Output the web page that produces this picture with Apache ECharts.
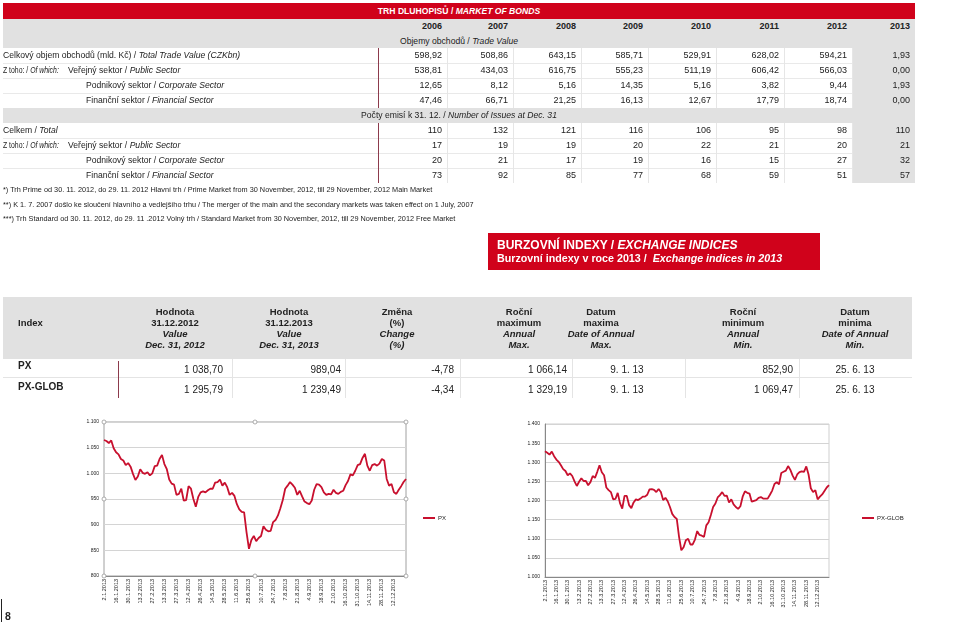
<!DOCTYPE html>
<html><head><meta charset="utf-8">
<script src="https://cdn.jsdelivr.net/npm/echarts@6/dist/echarts.min.js"></script>
<style>
html,body{margin:0;padding:0;background:#fff;}
body{width:960px;height:622px;position:relative;overflow:hidden;font-family:"Liberation Sans",Arial,sans-serif;color:#222;}
#chart{position:absolute;left:0;top:0;width:960px;height:622px;}
#tables{position:absolute;left:0;top:0;width:960px;height:622px;}
#tables div{position:absolute;white-space:nowrap;box-sizing:border-box;}
</style></head><body>
<div id="chart"></div><div id="tables"></div>
<script>
// ---------- DATA ----------
const years = ['2006','2007','2008','2009','2010','2011','2012','2013'];
const tradeTotal     = [598.92,508.86,643.15,585.71,529.91,628.02,594.21,1.93];
const tradePublic    = [538.81,434.03,616.75,555.23,511.19,606.42,566.03,0.00];
const tradeCorporate = [12.65,8.12,5.16,14.35,5.16,3.82,9.44,1.93];
const tradeFinancial = [47.46,66.71,21.25,16.13,12.67,17.79,18.74,0.00];
const issuesTotal     = [110,132,121,116,106,95,98,110];
const issuesPublic    = [17,19,19,20,22,21,20,21];
const issuesCorporate = [20,21,17,19,16,15,27,32];
const issuesFinancial = [73,92,85,77,68,59,51,57];

const indexNames = ['PX','PX-GLOB'];
const value2012  = ['1 038,70','1 295,79'];
const value2013  = ['989,04','1 239,49'];
const changePct  = ['-4,78','-4,34'];
const annualMax  = ['1 066,14','1 329,19'];
const dateMax    = ['9. 1. 13','9. 1. 13'];
const annualMin  = ['852,90','1 069,47'];
const dateMin    = ['25. 6. 13','25. 6. 13'];

const dates = ['2.1.2013','4.1.2013','8.1.2013','10.1.2013','14.1.2013','16.1.2013','18.1.2013','22.1.2013','24.1.2013','28.1.2013',
'30.1.2013','1.2.2013','5.2.2013','7.2.2013','11.2.2013','13.2.2013','15.2.2013','19.2.2013','21.2.2013','25.2.2013',
'27.2.2013','1.3.2013','5.3.2013','7.3.2013','11.3.2013','13.3.2013','15.3.2013','19.3.2013','21.3.2013','25.3.2013',
'27.3.2013','2.4.2013','4.4.2013','8.4.2013','10.4.2013','12.4.2013','16.4.2013','18.4.2013','22.4.2013','24.4.2013',
'26.4.2013','30.4.2013','3.5.2013','7.5.2013','10.5.2013','14.5.2013','16.5.2013','20.5.2013','22.5.2013','24.5.2013',
'28.5.2013','30.5.2013','3.6.2013','5.6.2013','7.6.2013','11.6.2013','13.6.2013','17.6.2013','19.6.2013','21.6.2013',
'25.6.2013','27.6.2013','1.7.2013','3.7.2013','8.7.2013','10.7.2013','12.7.2013','16.7.2013','18.7.2013','22.7.2013',
'24.7.2013','26.7.2013','30.7.2013','1.8.2013','5.8.2013','7.8.2013','9.8.2013','13.8.2013','15.8.2013','19.8.2013',
'21.8.2013','23.8.2013','27.8.2013','29.8.2013','2.9.2013','4.9.2013','6.9.2013','10.9.2013','12.9.2013','16.9.2013',
'18.9.2013','20.9.2013','24.9.2013','26.9.2013','30.9.2013','2.10.2013','4.10.2013','8.10.2013','10.10.2013','14.10.2013',
'16.10.2013','18.10.2013','22.10.2013','24.10.2013','29.10.2013','31.10.2013','4.11.2013','6.11.2013','8.11.2013','12.11.2013',
'14.11.2013','18.11.2013','20.11.2013','22.11.2013','26.11.2013','28.11.2013','2.12.2013','4.12.2013','6.12.2013','10.12.2013',
'12.12.2013','16.12.2013','18.12.2013','20.12.2013','27.12.2013','30.12.2013'];

const pxValues = [1065,1063,1059,1064,1049,1041,1037,1028,1025,1016,
1020,1013,999,987,994,1008,1001,999,1002,996,
1000,1014,1015,1028,1036,1018,1008,988,980,978,
958,960,970,947,948,975,970,950,935,954,
963,965,963,967,970,970,982,983,988,976,
982,973,958,962,956,940,930,925,924,885,
853,870,878,868,874,878,897,890,887,888,
905,909,918,932,948,970,976,983,978,972,
958,966,955,945,942,940,947,968,979,978,
973,963,958,960,959,968,962,960,964,966,
977,985,998,996,1005,1016,1018,1030,1038,1015,
1005,1016,1018,1015,1019,1028,1025,989,976,979,
963,960,968,975,983,989];

const pxGlobValues = [1329,1325,1320,1328,1316,1307,1301,1292,1282,1277,
1266,1271,1264,1250,1238,1249,1258,1251,1251,1240,
1248,1264,1259,1275,1292,1274,1266,1234,1227,1222,
1203,1204,1220,1193,1179,1212,1212,1188,1180,1195,
1203,1201,1205,1210,1210,1215,1229,1230,1228,1222,
1230,1222,1201,1207,1198,1183,1165,1157,1152,1105,
1070,1078,1096,1100,1085,1085,1098,1120,1110,1108,
1105,1135,1143,1162,1183,1192,1208,1214,1222,1212,
1213,1195,1203,1190,1183,1178,1185,1210,1224,1220,
1218,1197,1199,1201,1207,1209,1205,1205,1205,1215,
1226,1243,1248,1242,1272,1275,1278,1290,1280,1265,
1254,1268,1274,1276,1275,1289,1268,1232,1222,1227,
1203,1210,1216,1225,1234,1240];

const pxAxis = {min:800, max:1100, step:50};
const globAxis = {min:1000, max:1400, step:50};

// ---------- TABLES (HTML) ----------
const T = document.getElementById('tables');
function add(x,y,w,h,css,html){const d=document.createElement('div');d.style.cssText=`left:${x}px;top:${y}px;width:${w}px;height:${h}px;`+(css||'');if(html!==undefined)d.innerHTML=html;T.appendChild(d);return d;}
const fmt2 = v => v.toFixed(2).replace('.', ',');
const FS = 'font-size:9px;';
const FL = 'font-size:8.6px;';
const colEdges = [378,447,513,581,648,716,784,852,915];

// backgrounds
add(3,3,912,15.5,'background:#d0021b;');
add(3,18.5,912,29.5,'background:#e1e1e1;');
add(3,108,912,15,'background:#e1e1e1;');
add(852,48,63,60,'background:#e1e1e1;');
add(852,123,63,60,'background:#e1e1e1;');
[63,78,93,138,153,168].forEach(y=>add(3,y,849,1,'background:#e9e9e9;'));
[48,123].forEach(y0=>{
  colEdges.slice(1,8).forEach(x=>add(x,y0,1,60,'background:#e6e6e6;'));
  add(378,y0,1,60,'background:#8c3a4c;');
});

add(3,3,912,15.5,'text-align:center;color:#fff;font-weight:bold;font-size:8.6px;line-height:16px;','TRH DLUHOPISŮ / <i>MARKET OF BONDS</i>');
years.forEach((yr,i)=>add(colEdges[i],18.5,colEdges[i+1]-colEdges[i]-5,15,'text-align:right;font-weight:bold;'+FS+'line-height:15px;',yr));
add(3,33.5,912,14.5,'text-align:center;'+FL+'line-height:15px;','Objemy obchodů / <i>Trade Value</i>');
add(3,108,912,15,'text-align:center;'+FL+'line-height:15px;','Počty emisí k 31. 12. / <i>Number of Issues at Dec. 31</i>');

function dataRow(y, vals, f){
  vals.forEach((v,i)=>add(colEdges[i],y,colEdges[i+1]-colEdges[i]-5,15,'text-align:right;'+FS+'line-height:15px;',f(v)));
}
function label(x,y,html,extra){add(x,y,360,15,FL+'line-height:15px;'+(extra||''),html);}
const OFW = 'transform:scaleX(0.8);transform-origin:0 50%;';
label(3,48,'Celkový objem obchodů (mld. Kč) / <i>Total Trade Value (CZKbn)</i>');
label(3,63,'Z toho: / <i>Of which:</i>',OFW); label(68,63,'Veřejný sektor / <i>Public Sector</i>');
label(86,78,'Podnikový sektor / <i>Corporate Sector</i>');
label(86,93,'Finanční sektor / <i>Financial Sector</i>');
dataRow(48,tradeTotal,fmt2); dataRow(63,tradePublic,fmt2); dataRow(78,tradeCorporate,fmt2); dataRow(93,tradeFinancial,fmt2);
label(3,123,'Celkem / <i>Total</i>');
label(3,138,'Z toho: / <i>Of which:</i>',OFW); label(68,138,'Veřejný sektor / <i>Public Sector</i>');
label(86,153,'Podnikový sektor / <i>Corporate Sector</i>');
label(86,168,'Finanční sektor / <i>Financial Sector</i>');
const fint = v => String(v);
dataRow(123,issuesTotal,fint); dataRow(138,issuesPublic,fint); dataRow(153,issuesCorporate,fint); dataRow(168,issuesFinancial,fint);

const FN = 'font-size:7.3px;line-height:10px;';
add(3,185,900,10,FN,'*) Trh Prime od 30. 11. 2012, do 29. 11. 2012 Hlavní trh / Prime Market from 30 November, 2012, till 29 November, 2012 Main Market');
add(3,200,900,10,FN,'**) K 1. 7. 2007 došlo ke sloučení hlavního a vedlejšího trhu / The merger of the main and the secondary markets was taken effect on 1 July, 2007');
add(3,214,900,10,FN,'***) Trh Standard od 30. 11. 2012, do 29. 11 .2012 Volný trh / Standard Market from 30 November, 2012, till 29 November, 2012 Free Market');

// red title box
add(488,233,332,37,'background:#d0021b;');
add(497,238,320,15,'color:#fff;font-weight:bold;font-size:12px;line-height:15px;','BURZOVNÍ INDEXY / <i>EXCHANGE INDICES</i>');
add(497,251.5,320,13,'color:#fff;font-weight:bold;font-size:10.7px;line-height:13px;','Burzovní indexy v roce 2013 /&nbsp; <i>Exchange indices in 2013</i>');

// index table
add(3,297,909,62,'background:#e1e1e1;');
add(18,317,60,12,'font-weight:bold;font-size:9.5px;line-height:12px;','Index');
const heads = [
 [175,'Hodnota','31.12.2012','Value','Dec. 31, 2012'],
 [289,'Hodnota','31.12.2013','Value','Dec. 31, 2013'],
 [397,'Změna','(%)','Change','(%)'],
 [519,'Roční','maximum','Annual','Max.'],
 [601,'Datum','maxima','Date of Annual','Max.'],
 [743,'Roční','minimum','Annual','Min.'],
 [855,'Datum','minima','Date of Annual','Min.']];
heads.forEach(h=>add(h[0]-60,307.3,120,46,'text-align:center;font-weight:bold;font-size:9.5px;line-height:10.8px;',
  h[1]+'<br>'+h[2]+'<br><i>'+h[3]+'</i><br><i>'+h[4]+'</i>'));
add(3,377,909,1,'background:#e4e4e4;');
[232,345,460,572,685,799].forEach(x=>add(x,359,1,39,'background:#e4e4e4;'));
add(118,361,1,37,'background:#8c3a4c;');
const rowY = [[366,370],[387,390]];
const cols = [[value2012,'r',223],[value2013,'r',341],[changePct,'r',454],[annualMax,'r',567],[dateMax,'c',627],[annualMin,'r',793],[dateMin,'c',855]];
indexNames.forEach((nm,r)=>{
  add(18,rowY[r][0]-6,80,12,'font-weight:bold;font-size:10px;line-height:12px;',nm);
  cols.forEach(c=>{
    const v=c[0][r];
    if(c[1]==='r') add(c[2]-110,rowY[r][1]-6,110,12,'text-align:right;font-size:10px;line-height:12px;',v);
    else add(c[2]-55,rowY[r][1]-6,110,12,'text-align:center;font-size:10px;line-height:12px;',v);
  });
});
// page number
add(1,599,1,23,'background:#222;');
add(5,610,12,12,'font-weight:bold;font-size:10.5px;line-height:12px;','8');

// ---------- CHARTS ----------
const G0 = {left:104, top:422, width:302, height:154};
const G1 = {left:545, top:424, width:284, height:153};
const lineColor = '#c8102e';
function yFmt(v){ return v>=1000 ? Math.floor(v/1000)+'.'+String(v%1000).padStart(3,'0') : String(v); }
function xAx(i){return {type:'category', gridIndex:i, data:dates, boundaryGap:false,
  axisLine:{show:true,lineStyle:{color:'#888',width:1}}, axisTick:{show:false},
  axisLabel:{interval:(idx)=>idx%5===0 && idx<=120, rotate:90, fontSize:5.5, color:'#222', margin:3},
  splitLine:{show:false}};}
function yAx(i,a,showLine){return {type:'value', gridIndex:i, min:a.min, max:a.max, interval:a.step,
  axisLine:{show:showLine,lineStyle:{color:'#888'}}, axisTick:{show:false},
  axisLabel:{fontSize:5, color:'#222', margin:5, formatter:yFmt},
  splitLine:{lineStyle:{color:'#d4d4d4',width:1}}};}
const handles=[];
[[0,0],[0.5,0],[1,0],[0,0.5],[1,0.5],[0,1],[0.5,1],[1,1]].forEach(p=>handles.push({type:'circle',z:100,
  shape:{cx:G0.left+G0.width*p[0], cy:G0.top+G0.height*p[1], r:2},
  style:{fill:'#fff', stroke:'#999', lineWidth:0.8}}));
const chart = echarts.init(document.getElementById('chart'));
chart.setOption({
  animation:false,
  textStyle:{fontFamily:'Liberation Sans, Arial, sans-serif'},
  grid:[Object.assign({show:true,borderColor:'#a0a0a0',borderWidth:1},G0), Object.assign({show:true,borderColor:'#cfcfcf',borderWidth:1},G1)],
  xAxis:[xAx(0),xAx(1)],
  yAxis:[yAx(0,pxAxis,false),yAx(1,globAxis,true)],
  legend:[
    {data:['PX'], left:418, top:510, itemWidth:12, itemHeight:2, icon:'rect', itemGap:2, selectedMode:false, textStyle:{fontSize:6,color:'#222',padding:[0,0,0,-2]}},
    {data:['PX-GLOB'], left:857, top:510, itemWidth:12, itemHeight:2, icon:'rect', itemGap:2, selectedMode:false, textStyle:{fontSize:6,color:'#222',padding:[0,0,0,-2]}}],
  series:[
    {name:'PX', type:'line', xAxisIndex:0, yAxisIndex:0, data:pxValues, showSymbol:false, color:lineColor, lineStyle:{width:1.8,color:lineColor}},
    {name:'PX-GLOB', type:'line', xAxisIndex:1, yAxisIndex:1, data:pxGlobValues, showSymbol:false, color:lineColor, lineStyle:{width:1.8,color:lineColor}}],
  graphic:handles
});
</script></body></html>
